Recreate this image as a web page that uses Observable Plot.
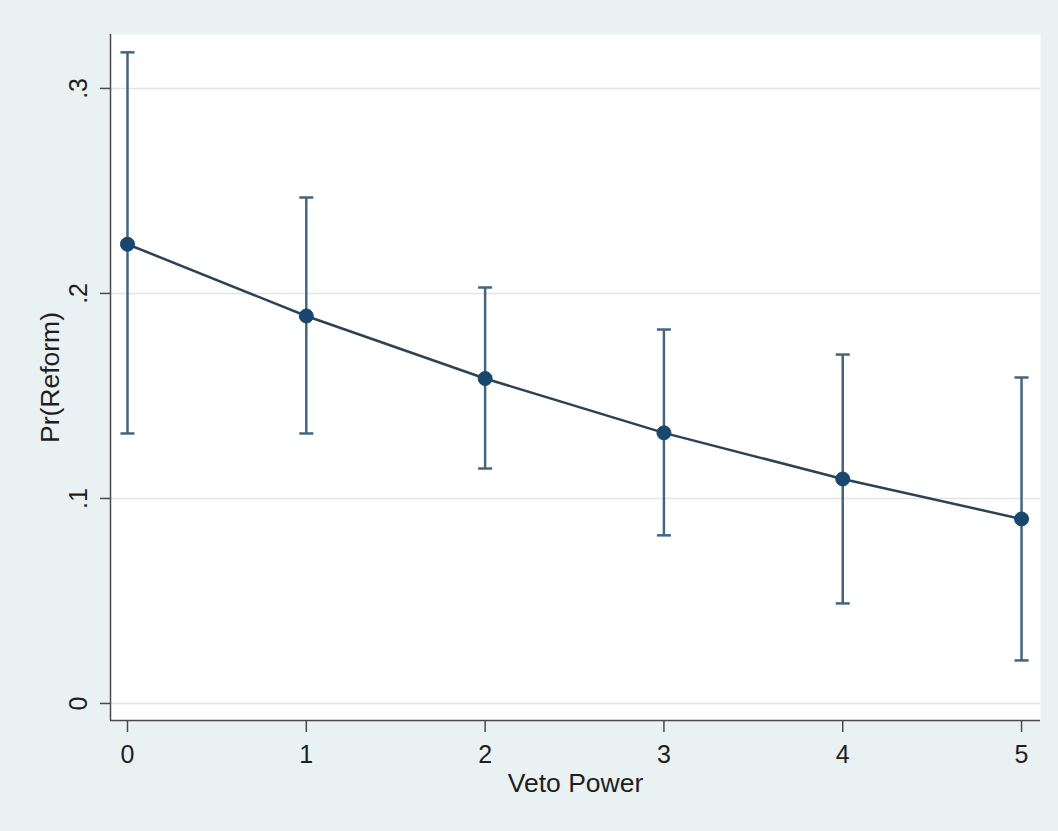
<!DOCTYPE html>
<html>
<head>
<meta charset="utf-8">
<script src="https://cdn.jsdelivr.net/npm/d3@7"></script>
<script src="https://cdn.jsdelivr.net/npm/@observablehq/plot@0.6"></script>
<style>
  html, body { margin: 0; padding: 0; background: #eaf1f3; }
  #chart { width: 1058px; height: 831px; }
</style>
</head>
<body>
<div id="chart"></div>
<script>
// Data
const vetoPower = [0, 1, 2, 3, 4, 5];
const prReform  = [0.224, 0.189, 0.1585, 0.132, 0.1095, 0.090];
const ciLow     = [0.1317, 0.1317, 0.1146, 0.0820, 0.0488, 0.021];
const ciHigh    = [0.3176, 0.2468, 0.2029, 0.1824, 0.1702, 0.159];

const xTicks = [0, 1, 2, 3, 4, 5];
const xTickLabels = ["0", "1", "2", "3", "4", "5"];
const yTicks = [0, 0.1, 0.2, 0.3];
const yTickLabels = ["0", ".1", ".2", ".3"];

const xTitle = "Veto Power";
const yTitle = "Pr(Reform)";

const rows = vetoPower.map((v, i) => ({x: v, y: prReform[i], lo: ciLow[i], hi: ciHigh[i]}));
const xTickRows = xTicks.map((t, i) => ({t, label: xTickLabels[i]}));
const yTickRows = yTicks.map((t, i) => ({t, label: yTickLabels[i]}));

const xDomain = [-0.095, 5.106];
const yDomain = [-0.0083, 0.3263];

// horizontal cap symbol
const capSymbol = {
  draw(context, size) {
    const w = Math.sqrt(size / Math.PI);
    context.moveTo(-w, 0);
    context.lineTo(w, 0);
  }
};

const font = "'Liberation Sans', Arial, Helvetica, sans-serif";
const ink = "#1e1e1e";
const axisColor = "#4a4a4a";
const barColor = "#436580";
const lineColor = "#2c4256";
const dotColor = "#1a476f";

const chart = Plot.plot({
  width: 1058,
  height: 831,
  marginLeft: 110,
  marginRight: 18,
  marginTop: 34,
  marginBottom: 111,
  style: {background: "#eaf1f3", fontFamily: font, color: ink},
  x: {domain: xDomain, axis: null},
  y: {domain: yDomain, axis: null},
  marks: [
    Plot.frame({fill: "white", stroke: null}),
    Plot.gridY(yTicks, {stroke: "#e4e4e4", strokeOpacity: 1, strokeWidth: 1.5}),
    // error bars
    Plot.ruleX(rows, {x: "x", y1: "lo", y2: "hi", stroke: barColor, strokeWidth: 2.5}),
    Plot.dot(rows, {x: "x", y: "lo", symbol: capSymbol, r: 7, stroke: barColor, strokeWidth: 2.5, fill: "none"}),
    Plot.dot(rows, {x: "x", y: "hi", symbol: capSymbol, r: 7, stroke: barColor, strokeWidth: 2.5, fill: "none"}),
    // connecting line
    Plot.line(rows, {x: "x", y: "y", stroke: lineColor, strokeWidth: 2.5}),
    Plot.dot(rows, {x: "x", y: "y", r: 7, fill: dotColor, stroke: dotColor, strokeWidth: 1}),
    // axis lines
    Plot.ruleX([xDomain[0]], {stroke: axisColor, strokeWidth: 1.5}),
    Plot.ruleY([yDomain[0]], {stroke: axisColor, strokeWidth: 1.5}),
    // ticks
    Plot.axisX(xTicks, {tickSize: 12, tickFormat: () => "", stroke: axisColor, strokeWidth: 1.5, label: null}),
    Plot.axisY(yTicks, {tickSize: 10, tickFormat: () => "", stroke: axisColor, strokeWidth: 1.5, label: null}),
    // tick labels
    Plot.text(xTickRows, {x: "t", text: "label", frameAnchor: "bottom", dy: 34, fontSize: 25, fill: ink, lineAnchor: "middle"}),
    Plot.text(yTickRows, {y: "t", text: "label", frameAnchor: "left", dx: -32, rotate: -90, fontSize: 25, fill: ink, textAnchor: "middle", lineAnchor: "middle"}),
    // titles
    Plot.text([xTitle], {text: d => d, frameAnchor: "bottom", dy: 63, fontSize: 26.5, fill: ink, lineAnchor: "middle"}),
    Plot.text([yTitle], {text: d => d, frameAnchor: "left", dx: -60, rotate: -90, fontSize: 26.5, fill: ink, textAnchor: "middle", lineAnchor: "middle"})
  ]
});

document.getElementById("chart").appendChild(chart);
</script>
</body>
</html>
